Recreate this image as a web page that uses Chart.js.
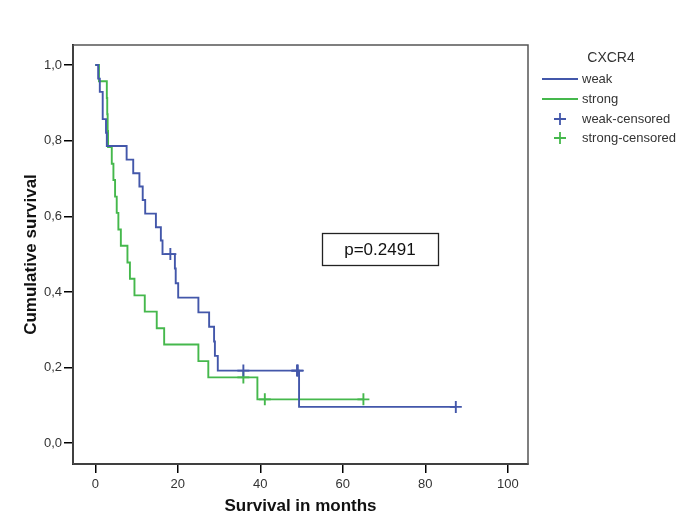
<!DOCTYPE html>
<html><head><meta charset="utf-8">
<script src="https://cdn.jsdelivr.net/npm/chart.js@4.4.1/dist/chart.umd.min.js"></script>
<style>html,body{margin:0;padding:0;background:#fff;} #wrap{width:685px;height:522px;position:relative;}</style>
</head><body><div id="wrap"><canvas id="c" width="685" height="522"></canvas></div>
<script>
// ---- data ----
const groupNames = ['weak', 'strong'];
const legendTitle = 'CXCR4';
const xTitle = 'Survival in months';
const yTitle = 'Cumulative survival';
const pText = 'p=0.2491';

// Kaplan-Meier steps: time of each drop and survival after it
const weakTimes = [0.7, 1.1, 1.8, 2.6, 2.8, 7.6, 9.2, 10.7, 11.5, 12.1, 14.7, 15.9, 16.3, 19.3, 19.5, 20.1, 25.0, 27.6, 28.8, 29.0, 29.7, 49.4];
const weakSurv  = [0.964, 0.929, 0.857, 0.821, 0.786, 0.750, 0.714, 0.679, 0.643, 0.607, 0.571, 0.536, 0.500, 0.462, 0.423, 0.385, 0.346, 0.308, 0.269, 0.231, 0.192, 0.096];
const weakCensorTimes = [18.2, 35.9, 48.9, 49.1, 87.4];
const weakCensorSurv  = [0.500, 0.192, 0.192, 0.192, 0.096];

const strongTimes = [0.9, 2.8, 2.9, 3.0, 3.1, 4.0, 4.4, 4.8, 5.2, 5.6, 6.2, 7.8, 8.4, 9.5, 12.0, 14.9, 16.7, 25.0, 27.4, 39.3];
const strongSurv  = [0.957, 0.913, 0.870, 0.826, 0.783, 0.739, 0.696, 0.652, 0.609, 0.565, 0.522, 0.478, 0.435, 0.391, 0.348, 0.304, 0.261, 0.217, 0.174, 0.116];
const strongCensorTimes = [35.9, 41.1, 65.0];
const strongCensorSurv  = [0.174, 0.116, 0.116];

const xTickValues = [0, 20, 40, 60, 80, 100];
const xTickLabels = ['0', '20', '40', '60', '80', '100'];
const yTickValues = [0, 0.2, 0.4, 0.6, 0.8, 1.0];
const yTickLabels = ['0,0', '0,2', '0,4', '0,6', '0,8', '1,0'];

// ---- styling ----
const FONT = '"Liberation Sans", Arial, sans-serif';
const BLUE = '#4357aa';
const GREEN = '#45b84c';

function kmPoints(times, surv, censT) {
  const pts = [{x: 0, y: 1}];
  times.forEach((t, i) => pts.push({x: t, y: surv[i]}));
  const end = Math.max(...censT, times[times.length - 1]);
  pts.push({x: end, y: surv[surv.length - 1]});
  return pts;
}
function pairs(xs, ys) { return xs.map((x, i) => ({x: x, y: ys[i]})); }

const framePlugin = {
  id: 'frame',
  beforeDatasetsDraw(chart) {
    const a = chart.chartArea, ctx = chart.ctx;
    ctx.save();
    ctx.strokeStyle = '#555';
    ctx.lineWidth = 1.5;
    ctx.strokeRect(a.left, a.top, a.right - a.left, a.bottom - a.top);
    ctx.restore();
  },
  afterDraw(chart) {
    const ctx = chart.ctx, xs = chart.scales.x, ys = chart.scales.y;
    ctx.save();
    // p-value box
    const cx = xs.getPixelForValue(69), cy = ys.getPixelForValue(0.514);
    ctx.strokeStyle = '#222'; ctx.lineWidth = 1.3;
    ctx.strokeRect(Math.round(cx - 58) + 0.5, Math.round(cy - 16) + 0.5, 116, 32);
    ctx.fillStyle = '#111';
    ctx.font = '17px ' + FONT;
    ctx.textAlign = 'center'; ctx.textBaseline = 'middle';
    ctx.fillText(pText, cx, cy + 1);

    // legend
    ctx.fillStyle = '#333';
    ctx.font = '14px ' + FONT;
    ctx.fillText(legendTitle, 611, 58);
    ctx.textAlign = 'left';
    ctx.font = '13px ' + FONT;
    const colors = [BLUE, GREEN];
    const rowsY = [79, 99, 119, 138];
    for (let i = 0; i < 2; i++) {
      ctx.strokeStyle = colors[i]; ctx.lineWidth = 1.8;
      ctx.beginPath(); ctx.moveTo(542, rowsY[i]); ctx.lineTo(578, rowsY[i]); ctx.stroke();
      ctx.fillStyle = '#333';
      ctx.fillText(groupNames[i], 582, rowsY[i]);
    }
    for (let i = 0; i < 2; i++) {
      const y = rowsY[i + 2];
      ctx.strokeStyle = colors[i]; ctx.lineWidth = 1.8;
      ctx.beginPath();
      ctx.moveTo(554, y); ctx.lineTo(566, y);
      ctx.moveTo(560, y - 6); ctx.lineTo(560, y + 6);
      ctx.stroke();
      ctx.fillStyle = '#333';
      ctx.fillText(groupNames[i] + '-censored', 582, y);
    }
    ctx.restore();
  }
};

new Chart(document.getElementById('c'), {
  type: 'line',
  data: {
    datasets: [
      {label: groupNames[0], data: kmPoints(weakTimes, weakSurv, weakCensorTimes), stepped: true,
       borderColor: BLUE, borderWidth: 1.9, pointRadius: 0, fill: false},
      {label: groupNames[1], data: kmPoints(strongTimes, strongSurv, strongCensorTimes), stepped: true,
       borderColor: GREEN, borderWidth: 1.9, pointRadius: 0, fill: false},
      {label: groupNames[0] + '-censored', data: pairs(weakCensorTimes, weakCensorSurv), showLine: false,
       pointStyle: 'cross', pointRadius: 6, borderColor: BLUE, backgroundColor: BLUE, pointBorderWidth: 1.9},
      {label: groupNames[1] + '-censored', data: pairs(strongCensorTimes, strongCensorSurv), showLine: false,
       pointStyle: 'cross', pointRadius: 6, borderColor: GREEN, backgroundColor: GREEN, pointBorderWidth: 1.9}
    ]
  },
  options: {
    responsive: false,
    animation: false,
    devicePixelRatio: 1,
    layout: {padding: {left: 0, top: 45, right: 157, bottom: 0}},
    plugins: {legend: {display: false}, tooltip: {enabled: false}},
    scales: {
      x: {
        type: 'linear', min: -5.4, max: 104.9,
        afterBuildTicks: s => { s.ticks = xTickValues.map(v => ({value: v})); },
        afterFit: s => { s.height = 58; },
        ticks: {callback: v => xTickLabels[xTickValues.indexOf(v)], font: {family: FONT, size: 13}, color: '#333',
                padding: 4, maxRotation: 0, autoSkip: false},
        grid: {display: true, drawOnChartArea: false, drawTicks: true, tickLength: 9, color: '#000', lineWidth: 1.5},
        border: {display: true, color: '#000', width: 2},
        title: {display: true, text: xTitle, font: {family: FONT, size: 17, weight: 'bold'}, color: '#111',
                padding: {top: 0, bottom: 5}}
      },
      y: {
        type: 'linear', min: -0.055, max: 1.053,
        afterBuildTicks: s => { s.ticks = yTickValues.map(v => ({value: v})); },
        afterFit: s => { s.width = 73; },
        ticks: {callback: v => yTickLabels[yTickValues.findIndex(t => Math.abs(t - v) < 1e-6)],
                font: {family: FONT, size: 13}, color: '#333', padding: 2, autoSkip: false},
        grid: {display: true, drawOnChartArea: false, drawTicks: true, tickLength: 9, color: '#000', lineWidth: 1.5},
        border: {display: true, color: '#000', width: 2},
        title: {display: true, text: yTitle, font: {family: FONT, size: 17, weight: 'bold'}, color: '#111',
                padding: {top: 21, bottom: 0}}
      }
    }
  },
  plugins: [framePlugin]
});
</script>
</body></html>
